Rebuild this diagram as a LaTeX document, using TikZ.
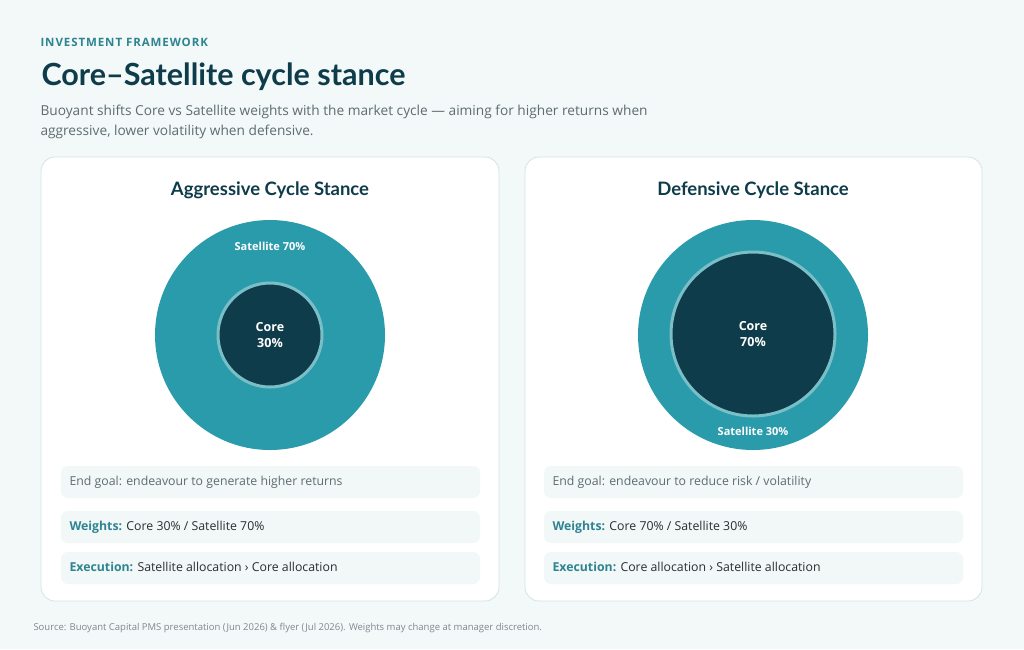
\documentclass[tikz,border=0pt]{standalone}
\usepackage{fontspec}
\setmainfont{Open Sans}
\newfontfamily\headfont{Lato}
\usetikzlibrary{positioning}
\definecolor{pagebg}{RGB}{243,248,248}
\definecolor{ink}{RGB}{14,60,74}
\definecolor{teal}{RGB}{42,155,170}
\definecolor{ringc}{RGB}{122,190,200}
\definecolor{kick}{RGB}{46,132,145}
\definecolor{sub}{RGB}{95,108,112}
\definecolor{rowbg}{RGB}{242,247,247}
\definecolor{cardline}{RGB}{212,228,230}
\definecolor{body}{RGB}{40,46,50}
\begin{document}
\begin{tikzpicture}[x=1pt,y=-1pt,
  card/.style={draw=cardline,fill=white,line width=0.8pt,rounded corners=14pt},
  row/.style={fill=rowbg,rounded corners=7pt},
  outer/.style={circle,fill=teal,minimum size=230pt,inner sep=0pt},
  core/.style={circle,fill=ink,draw=ringc,line width=3pt,inner sep=0pt,text=white,align=center,font=\fontsize{12.5}{16}\selectfont\bfseries},
  satlbl/.style={text=white,font=\fontsize{11}{13}\selectfont\bfseries},
  cardtitle/.style={text=ink,font=\headfont\fontsize{18.5}{22}\selectfont\bfseries},
  rowtxt/.style={anchor=west,text=body,font=\fontsize{12.3}{14}\selectfont},
  lbl/.style={text=kick}]
\useasboundingbox[fill=pagebg] (0,0) rectangle (1024,649);
% heading
\node[anchor=west,text=kick,font=\fontsize{11.5}{14}\selectfont\bfseries\addfontfeatures{LetterSpace=8}] (kicker) at (37,42) {INVESTMENT FRAMEWORK};
\node[anchor=west,text=ink,font=\headfont\fontsize{30.5}{36}\selectfont\bfseries] (title) at (38,77) {Core–Satellite cycle stance};
\node[anchor=north west,text=sub,align=left,font=\fontsize{13.7}{20}\selectfont] (subtitle) at (37,101)
  {Buoyant shifts Core vs Satellite weights with the market cycle — aiming for higher returns when\\aggressive, lower volatility when defensive.};
% cards
\draw[card] (41,157) rectangle (499,601);
\draw[card] (525,157) rectangle (982,601);
\node[cardtitle] (aggtitle) at (270,190) {Aggressive Cycle Stance};
\node[cardtitle] (deftitle) at (753,190) {Defensive Cycle Stance};
% aggressive rings
\node[outer] (aggsat) at (270,335) {};
\node[core,minimum size=104pt] (aggcore) at (270,335) {Core\\30\%};
\node[satlbl] (aggsatlbl) at (270,246) {Satellite 70\%};
% defensive rings
\node[outer] (defsat) at (753,335) {};
\node[core,minimum size=164pt] (defcore) at (753,334) {Core\\70\%};
\node[satlbl] (defsatlbl) at (753,431) {Satellite 30\%};
% rows
\fill[row] (61,466) rectangle (480,498);
\fill[row] (61,511) rectangle (480,543);
\fill[row] (61,552) rectangle (480,584);
\fill[row] (544,466) rectangle (963,498);
\fill[row] (544,511) rectangle (963,543);
\fill[row] (544,552) rectangle (963,584);
\node[rowtxt,text=sub] (agggoal) at (66,482) {End goal: endeavour to generate higher returns};
\node[rowtxt] (aggweights) at (66,527) {{\color{kick}\bfseries Weights:} Core 30\% / Satellite 70\%};
\node[rowtxt] (aggexec) at (66,567) {{\color{kick}\bfseries Execution:} Satellite allocation › Core allocation};
\node[rowtxt,text=sub] (defgoal) at (549,482) {End goal: endeavour to reduce risk / volatility};
\node[rowtxt] (defweights) at (549,527) {{\color{kick}\bfseries Weights:} Core 70\% / Satellite 30\%};
\node[rowtxt] (defexec) at (549,567) {{\color{kick}\bfseries Execution:} Core allocation › Satellite allocation};
% footer
\node[anchor=west,text=sub!80,font=\fontsize{9.5}{11}\selectfont] (source) at (30,628)
  {Source: Buoyant Capital PMS presentation (Jun 2026) \& flyer (Jul 2026). Weights may change at manager discretion.};
\end{tikzpicture}
\end{document}
